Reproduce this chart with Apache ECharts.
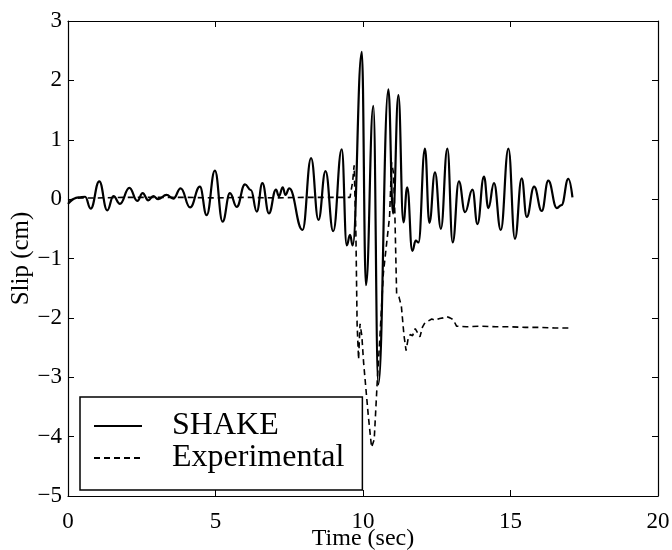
<!DOCTYPE html>
<html>
<head>
<meta charset="utf-8">
<script src="https://cdn.jsdelivr.net/npm/echarts@6/dist/echarts.min.js"></script>
<style>
  html, body { margin: 0; padding: 0; background: #fff; }
  #chart { width: 672px; height: 550px; }
</style>
</head>
<body>
<div id="chart"></div>
<script>
// SHAKE model: slip time history (peaks and troughs of the response)
const shakeTime = [0, 0.35, 0.58, 0.77, 1.06, 1.33, 1.54, 1.76, 2.08, 2.35, 2.53, 2.72, 2.89, 3.06, 3.34, 3.57,
  3.82, 4.14, 4.47, 4.7, 4.98, 5.24, 5.49, 5.72, 6.0, 6.2, 6.4, 6.59, 6.81, 7.05, 7.15, 7.28, 7.37, 7.5,
  7.95, 8.24, 8.49, 8.73, 8.99, 9.28, 9.45, 9.56, 9.65, 9.96, 10.1, 10.35, 10.52, 10.86, 11.02, 11.2,
  11.37, 11.5, 11.67, 11.79, 11.88, 12.1, 12.25, 12.44, 12.64, 12.86, 13.04, 13.25, 13.46, 13.71, 13.88,
  14.1, 14.25, 14.44, 14.67, 14.93, 15.15, 15.38, 15.55, 15.8, 16.06, 16.28, 16.57, 16.73, 16.96, 17.1];
const shakeSlip = [-0.08, 0.03, 0.04, -0.16, 0.3, -0.19, 0.05, -0.08, 0.19, -0.03, 0.1, -0.02, 0.05, 0.0, 0.07, 0.01,
  0.18, -0.14, 0.21, -0.27, 0.48, -0.38, 0.1, -0.13, 0.25, 0.15, -0.21, 0.27, -0.24, 0.16, 0.05, 0.2, 0.07, 0.18,
  -0.52, 0.69, -0.35, 0.47, -0.54, 0.84, -0.78, -0.6, -0.78, 2.48, -1.45, 1.57, -3.12, 1.85, -0.24, 1.75,
  -0.39, 0.2, -0.87, -0.7, -0.73, 0.85, -0.4, 0.45, -0.5, 0.85, -0.73, 0.3, -0.22, 0.16, -0.42,
  0.38, -0.15, 0.27, -0.52, 0.85, -0.67, 0.35, -0.3, 0.21, -0.2, 0.31, -0.15, -0.1, 0.34, 0.03];

// Measured slip from the experiment
const expTime = [0, 0.4, 1, 2, 3, 4, 5, 6, 7, 8, 9, 9.56, 9.65, 9.7, 9.76, 9.8, 9.85, 9.9, 9.96, 10.02, 10.08,
  10.18, 10.29, 10.38, 10.48, 10.58, 10.69, 10.8, 10.9, 10.97, 11.03, 11.08, 11.14, 11.22, 11.3, 11.39, 11.46,
  11.53, 11.6, 11.68, 11.77, 11.85, 11.93, 12.02, 12.1, 12.22, 12.33, 12.44, 12.6, 12.72, 12.84, 12.95, 13.06,
  13.17, 13.5, 14, 14.5, 15, 15.5, 16, 16.5, 17];
const expSlip = [-0.02, 0.02, 0.02, 0.03, 0.03, 0.03, 0.02, 0.03, 0.02, 0.03, 0.03, 0.03, 0.3, 0.57, -0.6, -2.1, -2.7, -2.1, -2.3, -2.75, -2.75,
  -3.65, -4.18, -4.05, -3.1, -2.26, -1.25, -0.75, -0.3, 0.62, 0.45, -0.24, -1.6, -1.65, -1.8, -2.3, -2.55,
  -2.35, -2.28, -2.3, -2.18, -2.25, -2.32, -2.15, -2.08, -2.05, -2.02, -2.04, -2.01, -2.0, -1.98, -2.0, -2.03,
  -2.14, -2.15, -2.14, -2.15, -2.15, -2.16, -2.16, -2.17, -2.17];

// Axis ranges and ticks
const xMin = 0, xMax = 20, xStep = 5;
const yMin = -5, yMax = 3, yStep = 1;

const FONT = '"Liberation Serif", "DejaVu Serif", serif';
const fmtNum = v => String(v).replace('-', '\u2212');

const pair = (xs, ys) => xs.map((x, i) => [x, ys[i]]);

const boxAxis = {
  axisLine: { show: true, onZero: false, lineStyle: { color: '#000', width: 1.2 } },
  axisTick: { show: true, inside: true, length: 6, lineStyle: { color: '#000', width: 1 } },
  splitLine: { show: false }
};

const chart = echarts.init(document.getElementById('chart'), null, { renderer: 'canvas' });
chart.setOption({
  backgroundColor: '#fff',
  animation: false,
  grid: { left: 68, right: 14, top: 21, bottom: 54, containLabel: false, outerBoundsMode: 'none' },
  xAxis: [
    Object.assign({
      type: 'value', min: xMin, max: xMax, interval: xStep, position: 'bottom',
      name: 'Time (sec)', nameLocation: 'middle', nameGap: 31, nameMoveOverlap: false,
      nameTextStyle: { fontFamily: FONT, fontSize: 24, color: '#000' },
      axisLabel: { color: '#000', fontFamily: FONT, fontSize: 23, margin: 14, formatter: fmtNum }
    }, boxAxis),
    Object.assign({
      type: 'value', min: xMin, max: xMax, interval: xStep, position: 'top',
      axisLabel: { show: false }
    }, boxAxis)
  ],
  yAxis: [
    Object.assign({
      type: 'value', min: yMin, max: yMax, interval: yStep, position: 'left',
      name: 'Slip (cm)', nameLocation: 'middle', nameGap: 34, nameRotate: 90, nameMoveOverlap: false,
      nameTextStyle: { fontFamily: FONT, fontSize: 25, color: '#000' },
      axisLabel: { color: '#000', fontFamily: FONT, fontSize: 23, margin: 6, formatter: fmtNum }
    }, boxAxis),
    Object.assign({
      type: 'value', min: yMin, max: yMax, interval: yStep, position: 'right',
      axisLabel: { show: false }
    }, boxAxis)
  ],
  legend: {
    orient: 'vertical',
    left: 80, top: 397,
    padding: [13, 18, 16, 13],
    itemGap: 0,
    itemWidth: 48, itemHeight: 14,
    itemStyle: { opacity: 0 },
    borderColor: '#000', borderWidth: 1.5, borderRadius: 0,
    backgroundColor: '#fff',
    textStyle: { fontFamily: FONT, fontSize: 32, color: '#000', lineHeight: 30, padding: [0, 0, 0, 25] },
    data: ['SHAKE', 'Experimental']
  },
  series: [
    {
      name: 'SHAKE', type: 'line', xAxisIndex: 0, yAxisIndex: 0,
      data: pair(shakeTime, shakeSlip),
      symbol: 'none', smooth: 0.45, smoothMonotone: 'x',
      lineStyle: { color: '#000', width: 2.2, type: 'solid' },
      itemStyle: { color: '#000' },
      z: 3
    },
    {
      name: 'Experimental', type: 'line', xAxisIndex: 0, yAxisIndex: 0,
      data: pair(expTime, expSlip),
      symbol: 'none', smooth: false,
      lineStyle: { color: '#000', width: 1.6, type: [6, 4] },
      itemStyle: { color: '#000' },
      z: 2
    }
  ]
});
</script>
</body>
</html>
